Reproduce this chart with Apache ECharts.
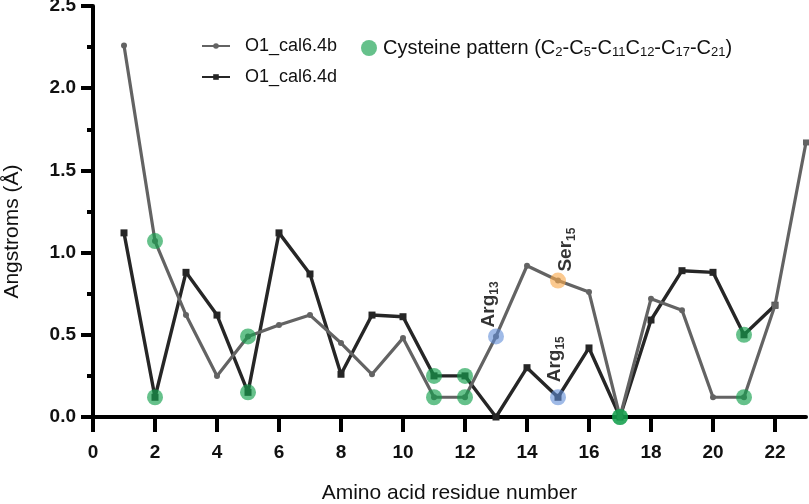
<!DOCTYPE html>
<html><head><meta charset="utf-8">
<script src="https://cdn.jsdelivr.net/npm/echarts@6/dist/echarts.min.js"></script>
<style>html,body{margin:0;padding:0;background:#fff}#c{width:809px;height:504px}</style>
</head><body><div id="c"></div>
<script>
// ---- data ----
const residues = [1,2,3,4,5,6,7,8,9,10,11,12,13,14,15,16,17,18,19,20,21,22,23];
const cal64b = [2.26,1.07,0.62,0.25,0.49,0.56,0.62,0.45,0.26,0.48,0.12,0.12,0.49,0.92,0.83,0.76,0.0,0.72,0.65,0.12,0.12,0.68,1.67];
const cal64d = [1.12,0.12,0.88,0.62,0.15,1.12,0.87,0.26,0.62,0.61,0.25,0.25,0.0,0.30,0.12,0.42,0.0,0.59,0.89,0.88,0.50,0.68];
const seriesNames = ['O1_cal6.4b','O1_cal6.4d'];
const xTicks = [0,2,4,6,8,10,12,14,16,18,20,22];
const yTicks = [0,0.5,1.0,1.5,2.0,2.5];
const cysteineResidues = [2,5,11,12,17,21];
const cysteineName = 'Cysteine pattern';
const annResidues = [13,15,15];
const annSeries = ['b','b','d'];
const annAmino = ['Arg','Ser','Arg'];
const annNumber = ['13','15','15'];
const annKind = ['arg','ser','arg'];

// ---- styling ----
const FONT = '"Liberation Sans", Arial, Helvetica, sans-serif';
const GRAY = '#636363', BLACK = '#262626';
const GREEN = 'rgba(22,160,78,0.82)', BLUE = 'rgba(95,140,215,0.75)', ORANGE = 'rgba(248,168,75,0.78)';
const seriesVals = {b: cal64b, d: cal64d};

const xy = (arr) => arr.map((v, i) => [residues[i], v]);
const cysData = [];
cysteineResidues.forEach(r => { cysData.push([r, cal64b[r-1]]); cysData.push([r, cal64d[r-1]]); });

const labelCfg = {
  arg13: {distance: 1, offset: [0, -7]},
  ser15: {distance: 1, offset: [0, 8]},
  arg15: {distance: 7, offset: [0, -3]}
};
const richSub = {
  m: {fontSize: 19, fontWeight: 'bold', fontFamily: FONT, color: '#000', lineHeight: 24},
  s: {fontSize: 12, fontWeight: 'bold', fontFamily: FONT, color: '#000', lineHeight: 12, verticalAlign: 'bottom'}
};
function annItem(i) {
  const key = annAmino[i].toLowerCase() + annNumber[i];
  const cfg = labelCfg[key];
  return {
    value: [annResidues[i], seriesVals[annSeries[i]][annResidues[i]-1]],
    label: {
      show: true, position: 'top', rotate: 90, align: 'left', verticalAlign: 'middle',
      distance: cfg.distance, offset: cfg.offset,
      formatter: '{m|' + annAmino[i] + '}{s|' + annNumber[i] + '}', rich: richSub
    }
  };
}
const argData = [], serData = [];
annResidues.forEach((r, i) => { (annKind[i] === 'arg' ? argData : serData).push(annItem(i)); });

const grayData = xy(cal64b).map((p, i) => i >= 21 ? {value: p, symbol: 'rect', symbolSize: 6} : p);

const chart = echarts.init(document.getElementById('c'), null, {renderer: 'canvas'});
chart.setOption({
  animation: false,
  textStyle: {fontFamily: FONT},
  grid: {left: 93, right: 3, top: 6, bottom: 87, containLabel: false, outerBoundsMode: 'none'},
  xAxis: {
    type: 'value', min: 0, max: 23, interval: 2,
    name: 'Amino acid residue number', nameLocation: 'middle', nameGap: 66,
    nameTextStyle: {fontSize: 21, color: '#111', fontFamily: FONT},
    axisLine: {show: true, onZero: false, lineStyle: {color: '#000', width: 4}},
    axisTick: {show: true, length: 15, customValues: xTicks, lineStyle: {color: '#000', width: 4}},
    axisLabel: {customValues: xTicks, fontSize: 19, fontWeight: 'bold', color: '#111', margin: 26, fontFamily: FONT},
    splitLine: {show: false}
  },
  yAxis: {
    type: 'value', min: 0, max: 2.5, interval: 0.5,
    name: 'Angstroms (Å)', nameLocation: 'middle', nameGap: 70,
    nameTextStyle: {fontSize: 21, color: '#111', fontFamily: FONT, padding: [0, 40, 0, 0]},
    axisLine: {show: true, lineStyle: {color: '#000', width: 4}},
    axisTick: {show: true, length: 12, lineStyle: {color: '#000', width: 4}},
    minorTick: {show: true, splitNumber: 2, length: 6, lineStyle: {color: '#000', width: 4}},
    axisLabel: {fontSize: 19, fontWeight: 'bold', color: '#111', margin: 17, fontFamily: FONT,
      formatter: v => v.toFixed(1)},
    splitLine: {show: false}
  },
  legend: [
    {
      data: seriesNames, orient: 'vertical', left: 196, top: 32,
      itemWidth: 28, itemHeight: 7, itemGap: 13,
      textStyle: {fontSize: 18, color: '#111', fontFamily: FONT, padding: [0, 0, 0, 10]}
    },
    {
      data: [cysteineName], left: 356, top: 33,
      icon: 'circle', itemWidth: 16, itemHeight: 16,
      formatter: () => '{t|Cysteine pattern (C}{s|2}{t|-C}{s|5}{t|-C}{s|11}{t|C}{s|12}{t|-C}{s|17}{t|-C}{s|21}{t|)}',
      textStyle: {fontSize: 20, color: '#111', fontFamily: FONT, padding: [0, 0, 0, 1],
        rich: {
          t: {fontSize: 20, color: '#111', fontFamily: FONT, lineHeight: 22},
          s: {fontSize: 13, color: '#111', fontFamily: FONT, lineHeight: 11, verticalAlign: 'bottom'}
        }}
    }
  ],
  series: [
    {
      name: seriesNames[1], type: 'line', data: xy(cal64d), z: 2, clip: false,
      symbol: 'rect', symbolSize: 7, showSymbol: true,
      lineStyle: {color: BLACK, width: 3.4}, itemStyle: {color: BLACK}
    },
    {
      name: seriesNames[0], type: 'line', data: grayData, z: 3, clip: false,
      symbol: 'circle', symbolSize: 6, showSymbol: true,
      lineStyle: {color: GRAY, width: 3.2}, itemStyle: {color: GRAY}
    },
    {
      name: cysteineName, type: 'scatter', data: cysData, z: 4, symbolSize: 16,
      itemStyle: {color: GREEN}, clip: false
    },
    {
      name: 'arg', type: 'scatter', data: argData, z: 4, symbolSize: 16,
      itemStyle: {color: BLUE}, clip: false
    },
    {
      name: 'ser', type: 'scatter', data: serData, z: 4, symbolSize: 16,
      itemStyle: {color: ORANGE}, clip: false
    }
  ]
});
</script></body></html>
